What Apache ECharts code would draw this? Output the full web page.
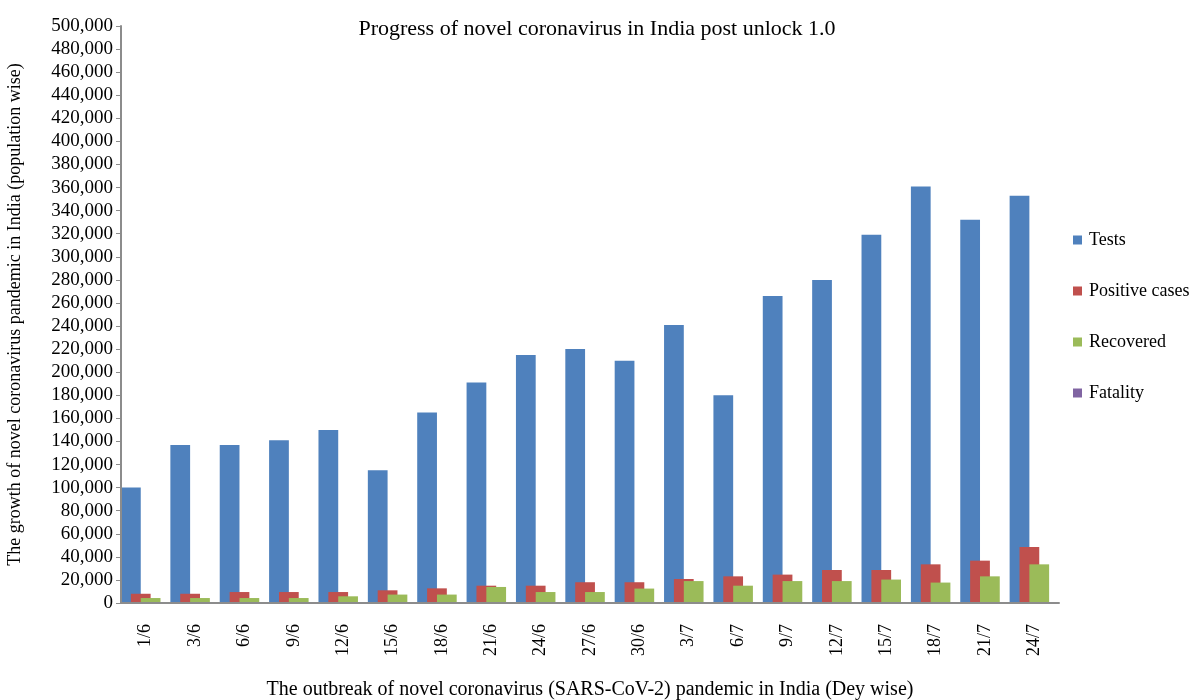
<!DOCTYPE html>
<html>
<head>
<meta charset="utf-8">
<script src="https://cdn.jsdelivr.net/npm/echarts@6/dist/echarts.min.js"></script>
<style>html,body{margin:0;padding:0;background:#fff}#c{width:1194px;height:700px}</style>
</head>
<body>
<div id="c"></div>
<script>
var categories = ['1/6','3/6','6/6','9/6','12/6','15/6','18/6','21/6','24/6','27/6','30/6','3/7','6/7','9/7','12/7','15/7','18/7','21/7','24/7'];
var tests = [100000,137000,137000,141000,150000,115000,165000,191000,215000,220000,210000,241000,180000,266000,280000,319000,361000,332000,353000];
var positive = [8000,8000,9500,9500,9500,11000,12700,15000,15000,18000,18000,20800,23100,24600,28600,28600,33500,36700,48500];
var recovered = [4300,4300,4300,4300,5800,7300,7300,13900,9500,9500,12500,19000,15000,19000,19000,20300,17700,23100,33500];
var fatality = [230,270,290,320,330,380,340,440,450,420,420,440,470,480,520,600,670,690,740];

var FONT = '"Liberation Serif","Times New Roman",serif';
var chart = echarts.init(document.getElementById('c'), null, {renderer:'canvas'});
chart.setOption({
  animation:false,
  backgroundColor:'#fff',
  title:{text:'Progress of novel coronavirus in India post unlock 1.0', left:592, textAlign:'center', top:13,
    textStyle:{fontFamily:FONT, fontSize:22, fontWeight:'normal', color:'#000'}},
  legend:{orient:'vertical', left:1068, top:226, itemWidth:9, itemHeight:9, itemGap:33, icon:'rect',
    textStyle:{fontFamily:FONT, fontSize:18, color:'#000', padding:[0,0,0,2]},
    data:['Tests','Positive cases','Recovered','Fatality']},
  grid:{left:121, right:135, top:26, bottom:97, containLabel:false, outerBoundsMode:'none'},
  xAxis:{type:'category', data:categories, boundaryGap:true, z:5,
    name:'The outbreak of novel coronavirus (SARS-CoV-2) pandemic in India (Dey wise)',
    nameLocation:'middle', nameGap:77,
    nameTextStyle:{fontFamily:FONT, fontSize:20, color:'#000'},
    axisLine:{lineStyle:{color:'#8c8c8c', width:2}},
    axisTick:{alignWithLabel:false, length:6, lineStyle:{color:'#8c8c8c'}},
    axisLabel:{rotate:90, margin:21, fontFamily:FONT, fontSize:18, color:'#000'}},
  yAxis:{type:'value', min:0, max:500000, interval:20000, z:5,
    name:'The growth of novel coronavirus pandemic in India (population wise)',
    nameLocation:'middle', nameGap:97,
    nameTextStyle:{fontFamily:FONT, fontSize:18, color:'#000'},
    axisLine:{show:true, lineStyle:{color:'#8c8c8c', width:2}},
    axisTick:{show:true, length:5, lineStyle:{color:'#8c8c8c'}},
    splitLine:{show:false},
    axisLabel:{margin:8, fontFamily:FONT, fontSize:19, color:'#000',
      formatter:function(v){return v.toLocaleString('en-US');}}},
  series:[
    {name:'Tests', type:'bar', data:tests, itemStyle:{color:'#4F81BD'}, barCategoryGap:'0%', barGap:'-50%'},
    {name:'Positive cases', type:'bar', data:positive, itemStyle:{color:'#C0504D'}},
    {name:'Recovered', type:'bar', data:recovered, itemStyle:{color:'#9BBB59'}},
    {name:'Fatality', type:'bar', data:fatality, itemStyle:{color:'#8064A2'}}
  ]
});
</script>
</body>
</html>
